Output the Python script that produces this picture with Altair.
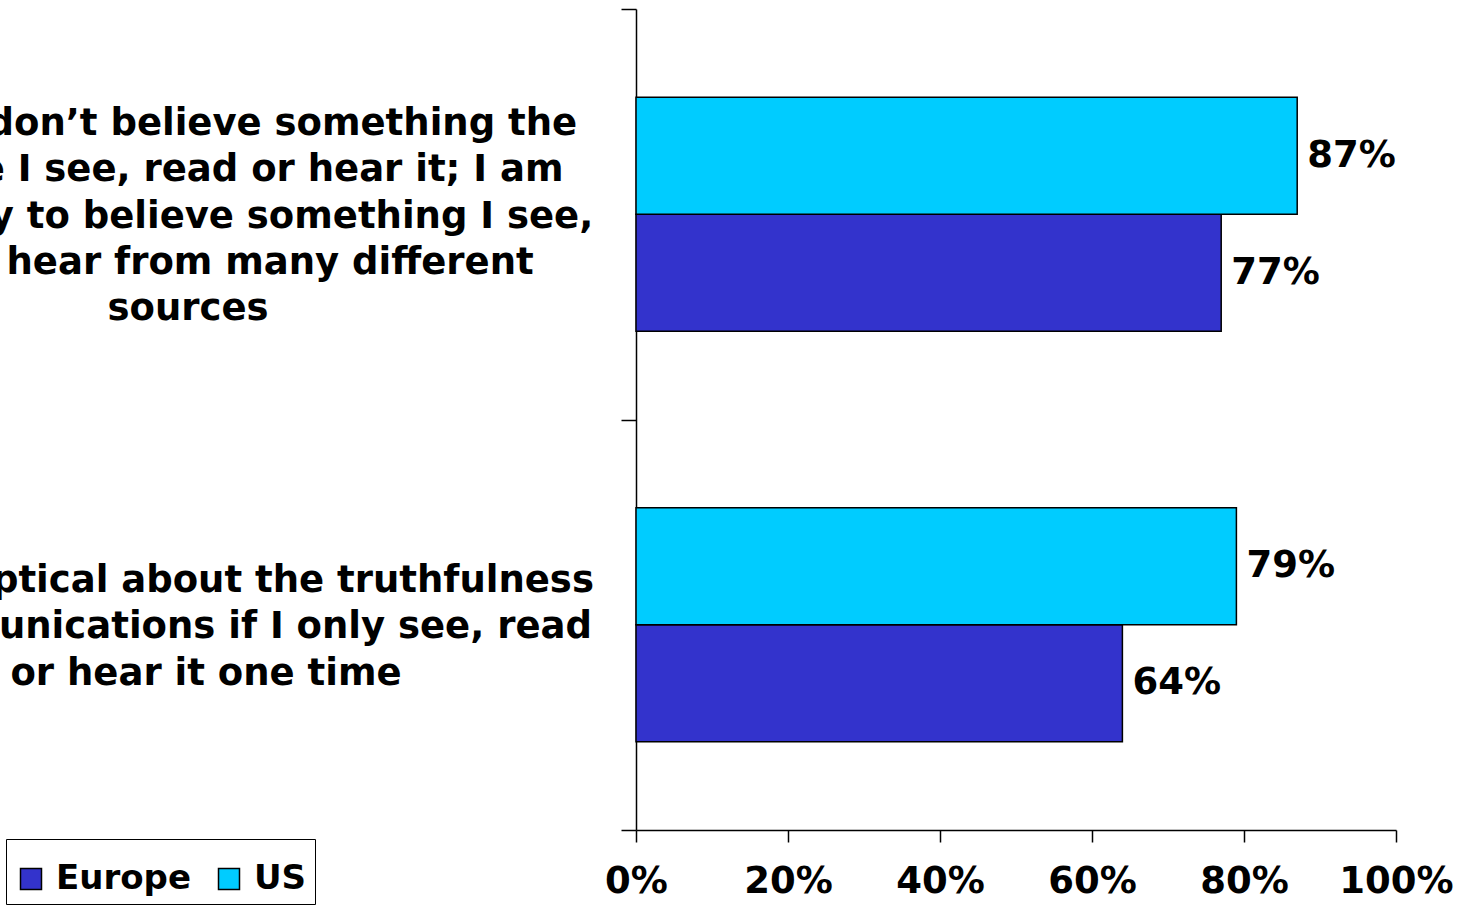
import altair as alt
import pandas as pd

# Survey statements (one list entry per wrapped line)
statements = [
    ["I usually don’t believe something the",
     "first time I see, read or hear it; I am",
     "more likely to believe something I see,",
     "read or hear from many different",
     "sources"],
    ["I am skeptical about the truthfulness",
     "of communications if I only see, read",
     "or hear it one time"],
]
regions = ["Europe", "US"]
europe = [77, 64]
us = [87, 79]
x_ticks = [0, 20, 40, 60, 80, 100]

statement_keys = ["\n".join(lines) for lines in statements]

bars_df = pd.DataFrame(
    [{"statement": s, "region": "Europe", "value": v} for s, v in zip(statement_keys, europe)]
    + [{"statement": s, "region": "US", "value": v} for s, v in zip(statement_keys, us)]
)

FONT = "DejaVu Sans"
FS = 37
LINE_H = 46.3

y_enc = alt.Y(
    "statement:N",
    sort=statement_keys,
    scale=alt.Scale(paddingInner=0, paddingOuter=0),
    axis=alt.Axis(
        labels=False, title=None, tickBand="extent", tickSize=15,
        domainColor="black", tickColor="black", domainWidth=1.5, tickWidth=1.5,
    ),
)
x_enc = alt.X(
    "value:Q",
    scale=alt.Scale(domain=[0, 100], nice=False),
    axis=alt.Axis(
        values=x_ticks, labelExpr="datum.value + '%'", grid=False, title=None,
        tickSize=12, labelFontSize=FS, labelFont=FONT, labelFontWeight="bold",
        labelColor="black", labelPadding=21, labelFlush=False, labelOverlap=False,
        domainColor="black", tickColor="black", domainWidth=1.5, tickWidth=1.5,
    ),
)
yoff_enc = alt.YOffset(
    "region:N", sort=["US", "Europe"],
    scale=alt.Scale(paddingInner=0, paddingOuter=0.756),
)

bars = alt.Chart(bars_df).mark_bar(stroke="black", strokeWidth=1.5).encode(
    x=x_enc,
    y=y_enc,
    yOffset=yoff_enc,
    color=alt.Color(
        "region:N",
        scale=alt.Scale(domain=regions, range=["#3333CC", "#00CCFF"]),
        legend=alt.Legend(
            title=" ", titleFontSize=8, titlePadding=7,
            orient="none", legendX=-630, legendY=830,
            direction="horizontal", strokeColor="black", fillColor="white",
            padding=8, symbolType="square", symbolSize=441,
            symbolStrokeColor="black", symbolStrokeWidth=1.5,
            labelFontSize=34, labelFont=FONT, labelFontWeight="bold",
            labelColor="black", labelOffset=8, columnPadding=21,
        ),
    ),
)

values = alt.Chart(bars_df).transform_calculate(
    label="datum.value + '%'"
).mark_text(
    align="left", baseline="middle", dx=10,
    fontSize=FS, font=FONT, fontWeight="bold", color="black",
).encode(
    x=alt.X("value:Q"),
    y=alt.Y("statement:N", sort=statement_keys),
    yOffset=alt.YOffset("region:N", sort=["US", "Europe"]),
    text="label:N",
)

# One centred multi-line label per statement, block centred on its band
label_centres = [-448, -430]
stmt_layers = []
for lines, key, cx in zip(statements, statement_keys, label_centres):
    stmt_layers.append(
        alt.Chart(pd.DataFrame({"statement": [key]})).mark_text(
            align="center", baseline="middle", lineBreak="\n", lineHeight=LINE_H,
            dy=2.5 - (len(lines) - 1) * LINE_H / 2,
            fontSize=FS, font=FONT, fontWeight="bold", color="black",
        ).encode(
            y=alt.Y("statement:N", sort=statement_keys),
            x=alt.value(cx),
            text="statement:N",
        )
    )

chart = alt.layer(bars, values, *stmt_layers).properties(
    width=760,
    height=821,
    padding={"left": 636, "top": 9, "right": 68, "bottom": 87},
    autosize=alt.AutoSizeParams(type="none"),
    background="white",
).configure_view(stroke=None)

chart.save("out.html", embed_options={"renderer": "svg", "actions": False})
